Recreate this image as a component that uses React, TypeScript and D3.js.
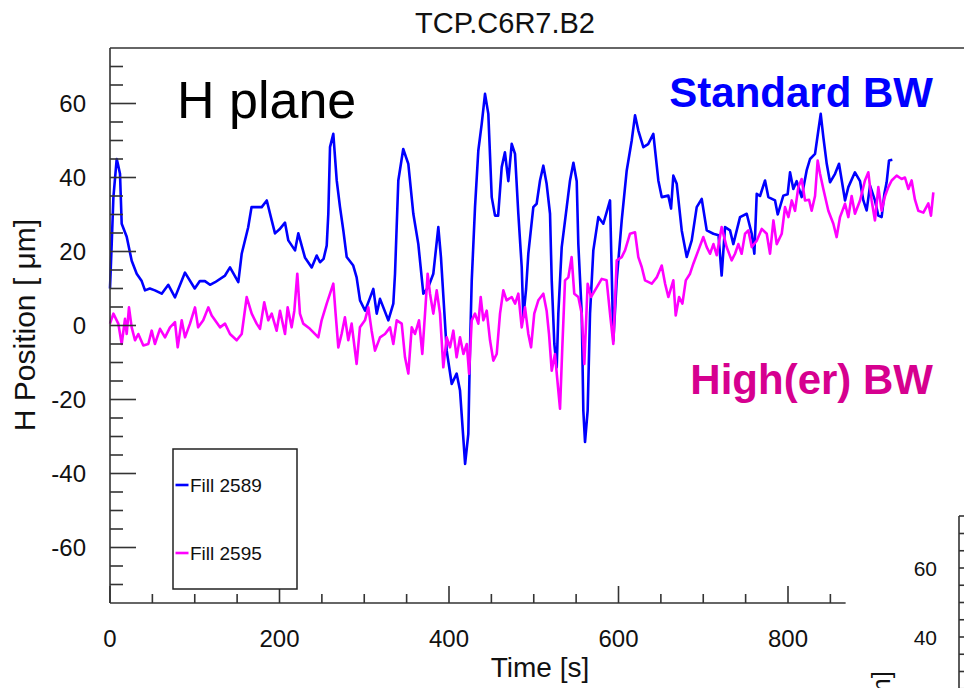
import React from "react";
import * as d3 from "d3";

const blueT = [0,2,4,7.9,9,11.8,13.8,19.7,25.6,31.5,37.4,41.3,47,53,61,68.8,76.7,88.5,100,106,112,118,124,135.7,141.6,151.4,155.4,163,167,179,185,190.8,194.7,200,206.5,210.4,218.3,222.2,230,238,243.9,247.8,252,255.7,257.6,259.6,263.5,267.5,271.4,275.3,279.3,287,291,295,301,306,310.7,314.7,318.6,328.4,334.3,336.3,340.2,346,352,357.9,363.8,369.7,375.6,381.5,387.4,390.5,397.3,403.2,409,413,419,422.8,424.8,426.8,430.7,434.6,438.6,442.5,446.4,450.4,454.3,458,462.2,466,470,474,477.9,481.8,485.8,487.7,491,493.6,499.5,503.4,507.4,511.3,515.2,519.2,521.2,524.3,527.1,529,533,538.9,542.8,546.8,550.7,552.6,556.6,558.5,560.5,563.6,566.4,570.3,576.2,582.1,590,593.9,597.9,603.8,609.7,615.6,619.5,623.4,629.3,635,641.1,647,651,658.8,662,664.7,668.7,674.6,680.5,686.4,692.3,698.2,704.1,712,718,721.7,725.7,731.6,735.5,743.4,751.3,757.2,760.3,763.1,767,772.9,776.8,784.7,787.9,794.5,799.6,802.4,806.3,810.2,816.1,822,826,831.9,835.8,838.6,841.7,845.7,849.6,855.5,860.2,867.3,871.2,879,885,888.9,892.8,896.8,902.6,906.6,910.5,913.7,916.4,919.2,923.1];
const blueV = [10,22,34.6,45,44,41,27.5,24,17.5,14,12,9.5,10,9.5,8.6,11,7.6,14.3,10,12,12,11,11.7,13.5,15.7,11.7,19.4,26.5,32,32,33.8,28.4,24.9,26,27.8,23,20.3,24.9,18.4,15.7,18.9,17.1,18,21.6,30.2,48.2,51.8,39.2,32,25.7,18.5,16.2,13,6.8,4,7,9.9,3.2,7.2,1.4,5.9,14,39.2,47.7,43.7,30.2,22,8.6,10.4,14,26.6,18.5,-6.8,-15.8,-13,-17.6,-37.4,-29.3,-5.9,12,32,47.3,54.5,62.6,57.2,34.7,29.7,29.7,42.8,46.8,39,49.1,46.4,30.2,15.8,2.2,10,19.4,32,32.9,39.2,43.2,38.3,30.2,12.2,-5,-11.3,3.2,21.2,32,39.2,44,39,22,3.2,-23,-31.5,-23,3.2,20.3,29.3,27.5,33.8,-4.1,12.2,28.4,41.9,50,56.8,52.7,48.2,49,51.8,39.2,34.7,35.1,31.6,40.5,38.3,25.7,18.5,23,32,34.2,25.7,24.8,24.4,13.5,26.6,25.7,22,29.3,30.2,24.8,19.4,35.6,35,39.2,34.7,33.8,30,35.1,35.5,41.4,36.9,39,34.7,41.9,45,46.4,52.7,57.2,50.9,43.7,38.7,41,43.7,33.8,37.4,41.4,39,33.8,31.1,37.8,33.8,29.7,29.3,35.6,38.7,44.6,44.8];

const pinkT = [0,4,9.8,13.8,17.7,19.7,22.4,25.6,29.5,33.4,39.3,45.2,49.2,53,59,64.9,70.8,76.7,79.9,84.6,88.5,94.4,100.3,104,110,116,120,129.8,135.7,141.6,149.5,155.4,161.3,167.2,173,177,182,186.7,190.8,196.6,200.6,206.5,209.6,214.3,217.5,221,224.1,228,235.9,245.8,249.7,255.7,259.6,263.5,266.2,269.4,273.3,277.2,281.2,285.1,291,294.9,300.8,304.8,308.7,312.7,318.6,324.5,330.4,334.3,338.3,344.2,348.1,352,356,359.9,364.6,368.5,371.7,374.8,377.6,381.5,385.5,389.4,393.3,397.3,401.2,405.1,409,413,417,421,423.7,426.8,430.7,434.6,437.4,440.5,444.5,448.4,452.3,456.3,460.2,464.1,468,474,478,481.8,485.8,489.7,493.6,496.8,500.6,505.4,511.3,515.2,518,521.2,525,529,531,533.7,536.9,540.8,544.7,547.8,552.6,556.6,559.7,563.6,567.5,572.2,580.2,586,590,593.9,597.9,603.8,607.7,613.6,619.5,623.4,627.4,631.3,639.2,645.1,651,655,658.8,664.7,667.5,671.5,675.4,679.4,684.4,688.3,694.2,700.1,704.1,708,712,715.9,721.7,727.6,733.5,737.5,741.4,745.3,749.3,753.2,757.2,763.1,769,774.9,778.8,782.8,786.7,792.6,796.5,800.5,804.4,808.3,812.2,816.1,820.1,824.8,827.9,831.9,835,837.8,841.7,847.6,853.5,857.4,861.4,867.3,871.2,875.1,879,885,890.8,894.8,898.7,902.6,906.6,910.5,914.5,918.4,922.3,928.2,934.1,938,942,945.9,949.8,953.8,959.7,965.6,968.7,971.5];
const pinkV = [0.5,3.2,0.5,-5,1.8,-2.3,4.9,-0.5,-4,-2.3,-5.4,-5,-1.4,-5,-0.9,-3.2,-0.5,0.9,-5.9,1.4,-3.2,0.5,4.9,-0.5,1.4,4.9,2.7,-0.5,0.5,-2.3,-4,-2.3,7.7,3.2,0.5,-0.9,6.3,1.4,3.2,-1.4,4,-2.3,4.9,-0.5,4,14,3.2,0.5,-0.9,-3.2,1.4,5.9,8.6,11.3,3.2,-5.9,-2.3,2.2,-4,0.5,-10.4,-0.5,1.4,4.9,-1.4,-6.8,-3.2,-2.3,-0.5,-5,1.4,0.5,-8.6,-13,-0.5,-2.3,1.4,-7.7,3.2,14,8.6,3.2,9.5,3.2,-11.3,-3.2,-5.9,-1.4,-8.6,-3.2,-7.7,-5,-13,1.4,3.2,0.5,7.7,1.4,4,-4,-9.5,-7.7,3.2,9.5,6.8,7.7,5.9,8.6,-0.5,4.9,-2.3,-5.9,3.2,6.8,8.6,4,-2.3,-12.2,-7.7,-17.6,-22.5,-5.9,12.2,13,18.5,8.6,7.7,3.2,-10.4,11.3,7.7,9.5,12.6,12.2,3.2,-5,17.6,18.5,20.3,24.8,25.2,18.5,15.8,12.2,11.3,13,16.2,11.3,7.7,12.2,2.7,7.7,5.9,12.2,14,16.7,20.3,23.9,21.2,19.4,22,19,26.6,21.2,17.6,19.4,22,19.4,24.8,25.7,21.2,22.9,26.1,24.8,19.4,28.4,22,24.8,32,29.3,33.8,31,37.4,39.6,33.8,34,31,35,44.6,41,36.9,31,27.5,23.9,29.3,32.9,29.3,35,30.2,33.8,39.2,41.4,33.8,28.4,37.4,31,35,37.4,39.2,40.5,39.6,40,36.9,39.2,34,31,30.5,33,29.7,36];

const xMajorTicks = [0, 200, 400, 600, 800];
const yMajorTicks = [-60, -40, -20, 0, 20, 40, 60];
const inset2Ticks = [40, 60];

const FONT = "'Liberation Sans', Arial, Helvetica, sans-serif";
const AXIS = "#333";

export default function App() {
  const x = d3.scaleLinear().domain([0, 1000]).range([110, 957.5]);
  const y = d3.scaleLinear().domain([-75, 75]).range([603, 48]);
  const y2 = d3.scaleLinear().domain([40, 60]).range([637, 568]);

  const line = d3
    .line<[number, number]>()
    .x((d) => x(d[0]))
    .y((d) => y(d[1]));

  const blue = blueT.map((t, i) => [t, blueV[i]] as [number, number]);
  const pink = pinkT.map((t, i) => [t, pinkV[i]] as [number, number]);

  const xMinor = d3.range(0, 851, 50).filter((v) => v % 200 !== 0);
  const yMinor = d3.range(-70, 71, 5).filter((v) => v % 20 !== 0);
  const y2Minor = d3.range(25, 75, 5).filter((v) => v % 20 !== 0);
  const xEnd = x(868);

  return (
    <div style={{ position: "absolute", left: 0, top: 0 }}>
      <svg width={964} height={688} style={{ display: "block", background: "#fff" }} fontFamily={FONT}>
        <rect x={0} y={0} width={964} height={688} fill="#fff" />
        <text x={505} y={33} fontSize={29} textAnchor="middle" fill="#111">TCP.C6R7.B2</text>

        {/* data */}
        <path d={line(blue) || ""} fill="none" stroke="#0000ff" strokeWidth={2.6} strokeLinejoin="round" />
        <path d={line(pink) || ""} fill="none" stroke="#ff00ff" strokeWidth={2.6} strokeLinejoin="round" />

        {/* frame */}
        <line x1={110} x2={964} y1={48} y2={48} stroke={AXIS} strokeWidth={1.6} />
        <line x1={110} x2={110} y1={48} y2={603} stroke={AXIS} strokeWidth={1.6} />
        <line x1={110} x2={xEnd} y1={603} y2={603} stroke={AXIS} strokeWidth={1.6} />

        {yMajorTicks.map((v) => (
          <g key={"ym" + v}>
            <line x1={110} x2={136} y1={y(v)} y2={y(v)} stroke={AXIS} strokeWidth={1.6} />
            <text x={86} y={y(v) + 8.5} fontSize={24} textAnchor="end" fill="#111">{v}</text>
          </g>
        ))}
        {yMinor.map((v) => (
          <line key={"yn" + v} x1={110} x2={123} y1={y(v)} y2={y(v)} stroke={AXIS} strokeWidth={1.6} />
        ))}
        {xMajorTicks.map((v) => (
          <g key={"xm" + v}>
            <line x1={x(v)} x2={x(v)} y1={603} y2={586} stroke={AXIS} strokeWidth={1.6} />
            <text x={x(v)} y={647} fontSize={24} textAnchor="middle" fill="#111">{v}</text>
          </g>
        ))}
        {xMinor.map((v) => (
          <line key={"xn" + v} x1={x(v)} x2={x(v)} y1={603} y2={594} stroke={AXIS} strokeWidth={1.6} />
        ))}

        <text x={540} y={677} fontSize={28} textAnchor="middle" fill="#111">Time [s]</text>
        <text transform="translate(35,325) rotate(-90)" fontSize={30} textAnchor="middle" fill="#111">H Position [ μm]</text>

        <text x={177} y={118} fontSize={52} fill="#000">H plane</text>
        <text x={933} y={107} fontSize={42} fontWeight="bold" textAnchor="end" fill="#0000ff">Standard BW</text>
        <text x={933} y={394} fontSize={42} fontWeight="bold" textAnchor="end" fill="#d6008f">High(er) BW</text>

        {/* legend */}
        <rect x={173} y={449} width={124} height={140} fill="#fff" stroke="#222" strokeWidth={1.5} />
        <line x1={175.5} x2={188.5} y1={485} y2={485} stroke="#0000ff" strokeWidth={2.6} />
        <text x={190} y={491.5} fontSize={19} fill="#111">Fill 2589</text>
        <line x1={175.5} x2={188.5} y1={553} y2={553} stroke="#ff00ff" strokeWidth={2.6} />
        <text x={190} y={559.5} fontSize={19} fill="#111">Fill 2595</text>

        {/* overlapping second panel (bottom right) */}
        <rect x={846} y={500} width={118} height={188} fill="#fff" />
        <line x1={959} x2={964} y1={516} y2={516} stroke={AXIS} strokeWidth={1.6} />
        <line x1={959} x2={959} y1={516} y2={688} stroke={AXIS} strokeWidth={1.6} />
        {inset2Ticks.map((v) => (
          <g key={"i2" + v}>
            <line x1={959} x2={985} y1={y2(v)} y2={y2(v)} stroke={AXIS} strokeWidth={1.6} />
            <text x={937} y={y2(v) + 7.5} fontSize={21} textAnchor="end" fill="#111">{v}</text>
          </g>
        ))}
        {y2Minor.map((v) => (
          <line key={"i2n" + v} x1={959} x2={972} y1={y2(v)} y2={y2(v)} stroke={AXIS} strokeWidth={1.6} />
        ))}
        <text transform="translate(890,671) rotate(-90)" fontSize={26} textAnchor="end" fill="#111">V Position [ μm]</text>
      </svg>
    </div>
  );
}
